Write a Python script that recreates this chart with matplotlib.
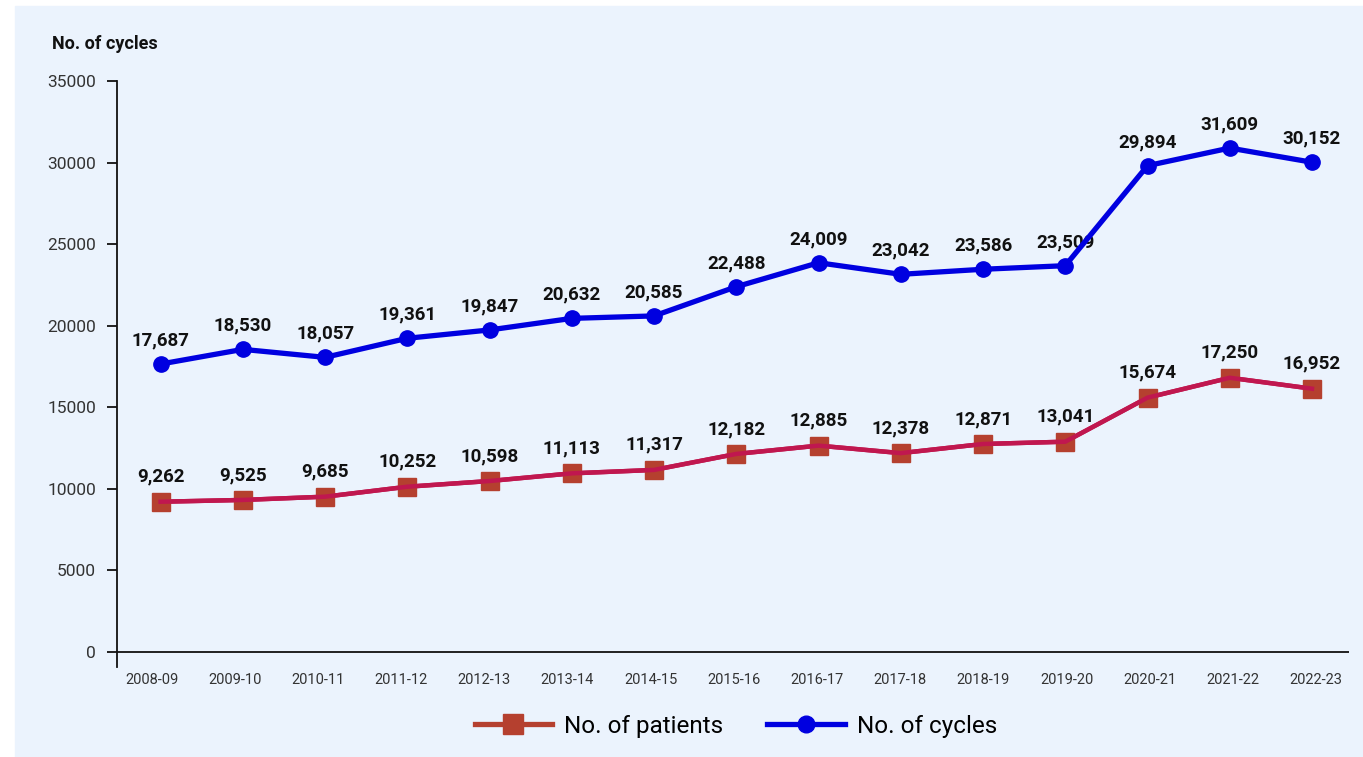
import matplotlib.pyplot as plt
from matplotlib.lines import Line2D
from matplotlib.patches import Rectangle

plt.rcParams['font.family'] = ['Roboto', 'DejaVu Sans']

# data
years = ['2008-09', '2009-10', '2010-11', '2011-12', '2012-13', '2013-14', '2014-15', '2015-16',
         '2016-17', '2017-18', '2018-19', '2019-20', '2020-21', '2021-22', '2022-23']
# positions of the marks as drawn
cycles = [17650, 18550, 18060, 19230, 19740, 20450, 20600, 22390,
          23860, 23150, 23460, 23680, 29810, 30890, 30020]
patients = [9210, 9320, 9520, 10130, 10480, 10950, 11160, 12140,
            12650, 12190, 12750, 12890, 15590, 16810, 16140]
# printed labels
cycles_lbl = ['17,687', '18,530', '18,057', '19,361', '19,847', '20,632', '20,585', '22,488',
              '24,009', '23,042', '23,586', '23,509', '29,894', '31,609', '30,152']
patients_lbl = ['9,262', '9,525', '9,685', '10,252', '10,598', '11,113', '11,317', '12,182',
                '12,885', '12,378', '12,871', '13,041', '15,674', '17,250', '16,952']
yticks = [0, 5000, 10000, 15000, 20000, 25000, 30000, 35000]

blue = '#0000e0'
crimson = '#c0174f'
brick = '#b5402f'
panel = '#ebf3fd'

fig = plt.figure(figsize=(13.63, 7.57), dpi=100)
fig.patches.append(Rectangle((15 / 1363, 0), 1 - 15 / 1363, 1 - 6 / 757,
                             transform=fig.transFigure, color=panel, zorder=-10))

ax = fig.add_axes([117 / 1363, 90 / 757, (1349 - 117) / 1363, (667 - 81) / 757])
ax.set_facecolor('none')

x = list(range(len(years)))

ax.plot(x, patients, color=crimson, lw=3.2, marker='s', ms=13, mfc=brick, mec=brick,
        zorder=3)
# line sits on top of the squares
ax.plot(x, patients, color=crimson, lw=3.2, zorder=4)
ax.plot(x, cycles, color=blue, lw=3.8, marker='o', ms=11, mfc=blue, mec=blue, zorder=4)

for i in x:
    ax.annotate(cycles_lbl[i], (i, cycles[i]), xytext=(0, 17), textcoords='offset points',
                ha='center', va='center', fontsize=13.5, fontweight='bold', color='#111111',
                zorder=2)
    ax.annotate(patients_lbl[i], (i, patients[i]), xytext=(0, 18), textcoords='offset points',
                ha='center', va='center', fontsize=13.5, fontweight='bold', color='#111111',
                zorder=2)

ax.set_xlim(-0.53, 14.45)
ax.set_ylim(-920, 35000)
ax.set_yticks(yticks)
ax.set_yticklabels([str(v) for v in yticks])
# the category labels sit on a slightly wider band than the points
ax.set_xticks([-0.11 + i * 1.0114 for i in x])
ax.set_xticklabels(years)

for s in ['top', 'right', 'bottom']:
    ax.spines[s].set_visible(False)
ax.spines['left'].set_color('#111111')
ax.spines['left'].set_linewidth(1.3)
ax.spines['left'].set_bounds(-920, 35000)
ax.axhline(0, color='#111111', lw=1.3, zorder=1)

ax.tick_params(axis='y', length=7, width=1.3, color='#111111', labelsize=12.5,
               labelcolor='#333333', pad=8)
ax.tick_params(axis='x', length=0, labelsize=10.5, labelcolor='#333333', pad=4)

fig.text(52 / 1363, 1 - 44 / 757, 'No. of cycles', fontsize=13, fontweight='bold',
         color='#111111', ha='left', va='center')

handles = [Line2D([], [], color=brick, lw=3.8, marker='s', ms=14),
           Line2D([], [], color=blue, lw=3.8, marker='o', ms=12)]
fig.legend(handles, ['No. of patients', 'No. of cycles'], loc='center',
           bbox_to_anchor=(736 / 1363, 31 / 757), ncol=2, frameon=False, fontsize=17.5,
           handlelength=3.2, columnspacing=1.8, handletextpad=0.5)

fig.savefig('out.png', dpi=100)
